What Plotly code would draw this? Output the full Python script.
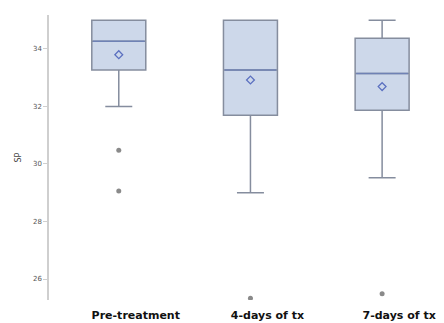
import plotly.graph_objects as go

categories = ["Pre-treatment", "4-days of tx", "7-days of tx"]
q1 = [33.27, 31.69, 31.87]
median = [34.27, 33.27, 33.15]
q3 = [35.0, 35.0, 34.37]
lower = [32.0, 29.0, 29.52]
upper = [35.0, 35.0, 35.0]
mean = [33.8, 32.92, 32.69]
outlier_cat = ["Pre-treatment", "Pre-treatment", "4-days of tx", "7-days of tx"]
outlier_val = [30.48, 29.06, 25.33, 25.49]
y_ticks = [26, 28, 30, 32, 34]

fig = go.Figure()
fig.add_trace(go.Box(
    x=categories, q1=q1, median=median, q3=q3,
    lowerfence=lower, upperfence=upper,
    width=0.41, whiskerwidth=0.5,
    fillcolor="#cdd8ea", line=dict(color="#858d9e", width=1.5),
    boxpoints=False, showlegend=False, hoverinfo="skip",
))
fig.add_trace(go.Scatter(
    x=categories, y=median, mode="markers",
    marker=dict(symbol="line-ew", size=37, line=dict(color="#6f82b5", width=1.5)),
    showlegend=False, hoverinfo="skip",
))
fig.add_trace(go.Scatter(
    x=categories, y=mean, mode="markers",
    marker=dict(symbol="diamond-open", size=6, color="#5b70c0", line=dict(width=1.3)),
    showlegend=False,
))
fig.add_trace(go.Scatter(
    x=outlier_cat, y=outlier_val, mode="markers",
    marker=dict(symbol="circle", size=5, color="#8a8a8a"),
    showlegend=False,
))

fig.update_layout(
    width=444, height=323,
    margin=dict(l=41, r=8, t=7, b=31),
    plot_bgcolor="white", paper_bgcolor="white",
    font=dict(family="DejaVu Sans", color="#000"),
)
fig.update_xaxes(
    type="category", range=[-0.53, 2.47],
    showline=False, showgrid=False, zeroline=False, ticks="",
    tickfont=dict(size=11, family="DejaVu Sans", weight="bold", color="#111"),
    ticklabelshift=17, ticklabelstandoff=7,
)
fig.update_yaxes(
    range=[25.27, 35.18], tickvals=y_ticks,
    showline=True, linecolor="#cfcfcf", linewidth=1.5,
    showgrid=False, zeroline=False,
    ticks="outside", ticklen=4, tickcolor="#cfcfcf",
    tickfont=dict(size=7, color="#555"),
    title=dict(text="SP", font=dict(size=8, color="#444"), standoff=10),
)

fig.write_html("out.html")
